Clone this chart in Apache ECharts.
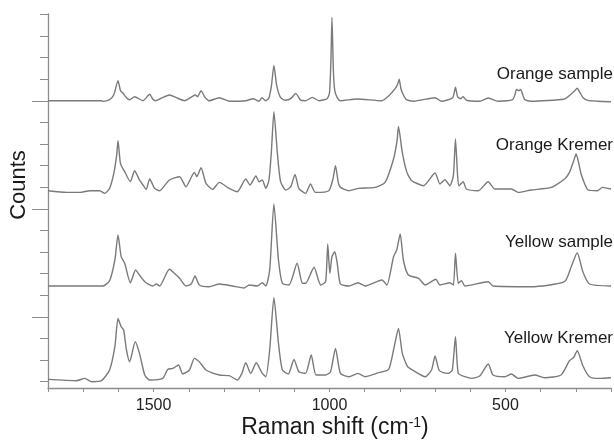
<!DOCTYPE html>
<html>
<head>
<meta charset="utf-8">
<script src="https://cdn.jsdelivr.net/npm/echarts@6/dist/echarts.min.js"></script>
<style>
html,body{margin:0;padding:0;background:#fff;}
#chart{width:614px;height:441px;}
</style>
</head>
<body>
<div id="chart"></div>
<script>
// Raman shift (cm-1) vs. relative intensity above each trace's baseline
var orangeSample = [[1800,0],[1648,0],[1644,-0.7],[1625,1],[1613,6],[1601,20],[1594,10],[1588,8],[1577,3],[1568,1],[1554,4],[1530,0],[1511,6.5],[1502,1.5],[1494,0],[1475,3],[1455,5.7],[1435,3],[1412,0],[1381,5.7],[1375,4],[1365,10],[1355,4],[1342,0],[1313,3],[1285,-0.5],[1238,0],[1217,2],[1200,-0.5],[1192,3],[1181,0],[1172,3],[1165,15],[1158,35.3],[1150,15],[1139,3],[1125,0.5],[1110,2],[1096,7.3],[1082,0.5],[1068,0],[1049,3.3],[1030,0],[1007,2],[1000,8],[996,40],[993,83.4],[989,30],[985,10],[978,3],[969,0],[922,1.7],[852,0],[832,4.7],[813,12.3],[806,17],[802,21.4],[797,12],[790,5.7],[781,1],[761,-0.5],[700,3],[682,-0.5],[650,3],[642,13.4],[636,4],[628,2],[620,4],[611,0.5],[573,-0.5],[549,2.7],[521,-0.5],[480,1],[472,7],[469,11.3],[462,10],[457,11.3],[450,5],[445,1],[427,-0.5],[332,1.7],[313,6.7],[303,10],[296,12.4],[288,8],[280,3.3],[266,0.3],[238,-0.5],[200,-1]];
var orangeKremer = [[1800,0],[1747,-1.7],[1709,-1.7],[1681,0],[1653,0],[1639,-2.7],[1625,2.3],[1613,17.3],[1605,35],[1601,50],[1594,27],[1582,19],[1566,9],[1554,20],[1540,10.7],[1530,5.7],[1521,1.3],[1511,11.7],[1497,2.3],[1483,0],[1455,10.7],[1426,14],[1408,4],[1384,18.3],[1377,14],[1365,23],[1351,7.3],[1332,1.3],[1313,8.3],[1285,2.3],[1262,-1],[1238,11.7],[1226,5.7],[1209,14.7],[1200,9],[1191,10.7],[1181,2.3],[1172,10.7],[1165,40],[1158,79],[1148,37],[1139,9],[1124,0.7],[1110,4],[1098,16.3],[1087,2.3],[1068,-2.7],[1054,6.7],[1040,-1.7],[1002,0],[990,12],[983,25],[975,8],[969,3.3],[945,0],[917,2.3],[870,3.3],[842,8.3],[818,31.7],[808,50],[804,64.3],[793,38],[780,18.3],[766,10],[733,5],[700,17.7],[686,6.7],[672,11],[658,5],[648,15],[642,51.7],[636,15],[632,5],[620,9],[611,1.7],[577,0],[549,9],[530,1.7],[483,1.7],[464,-1.7],[427,0.7],[370,3.3],[332,11.7],[318,18.3],[306,30],[299,36.7],[292,28],[285,16.7],[266,1],[238,0],[224,3.3],[200,1.7]];
var yellowSample = [[1800,0],[1644,0],[1625,5.3],[1610,26],[1601,51],[1592,29.3],[1582,22.7],[1566,3.3],[1551,16],[1540,11],[1525,4.3],[1502,0],[1492,2],[1483,0],[1455,16.7],[1441,12.7],[1426,7.7],[1408,0],[1393,2],[1382,10],[1370,1],[1342,-0.7],[1313,2],[1276,0],[1243,-2],[1228,1],[1205,0],[1191,3.3],[1181,0],[1170,16],[1158,82],[1145,26],[1134,2.7],[1115,1],[1092,22.7],[1077,2.7],[1068,2.7],[1044,18.7],[1025,1],[1011,4.3],[1005,42],[999,12.7],[993,29.3],[985,34.3],[978,22.7],[969,2],[945,0],[919,3.3],[898,0],[851,6],[837,1],[818,29.3],[809,36],[799,52],[790,26],[776,11],[747,7.7],[728,1],[698,6.7],[686,1],[658,3.3],[648,1],[642,32.7],[634,2.7],[625,5.3],[615,0],[549,4.3],[535,0],[427,-0.7],[332,4.3],[313,19.3],[296,33.3],[280,14.3],[261,2],[200,0]];
var yellowKremer = [[1800,1.3],[1719,0],[1695,2.3],[1676,-1],[1648,0],[1625,10.7],[1610,34],[1601,62.3],[1592,54],[1585,50.7],[1577,30.7],[1568,19],[1552,39],[1540,27.3],[1525,5.7],[1511,0.7],[1474,2.3],[1460,11.3],[1445,12.3],[1429,15.7],[1417,6.7],[1398,10.7],[1384,22.3],[1370,19],[1351,10.7],[1313,5.7],[1285,5],[1262,0.7],[1249,7.3],[1238,18],[1224,7.3],[1208,18],[1191,7.3],[1181,4],[1170,30.7],[1158,83.3],[1145,37.3],[1134,10.7],[1117,6.7],[1101,21.3],[1087,9],[1068,7.3],[1052,25.7],[1038,5.7],[1011,5.7],[997,9],[983,32.3],[969,7.3],[945,4],[919,7.3],[898,4],[860,8],[832,11.3],[818,30.7],[804,52.3],[793,27.3],[778,14],[761,10],[728,4],[710,10.7],[700,24.7],[689,10.7],[677,8],[662,7.3],[651,10.7],[642,44],[634,7.3],[615,4],[596,2.3],[573,4.7],[549,16.7],[535,5.7],[502,4],[483,6.7],[464,2.3],[417,5.7],[389,3],[342,5.7],[318,20],[306,23.3],[296,30],[280,15],[261,4],[233,2.3],[200,3]];

var seriesNames = ['Orange sample', 'Orange Kremer', 'Yellow sample', 'Yellow Kremer'];
var offsets = [287.3, 197.3, 102, 7.3];        // vertical stacking offset of each trace
var xLabelTicks = [1500, 1000, 500];
var yMinorTicks = [6.3,27.9,49.5,71.1,92.7,114.3,135.9,157.5,179.1,200.7,222.3,243.9,265.5,287.1,308.7,330.3,351.9,373.5];
var yMajorTicks = [71.1, 179.1, 287.1];
var labelValueY = [314, 243, 146, 50];         // label anchor heights in axis units

var FONT = '"Liberation Sans", Arial, Helvetica, sans-serif';
var chart = echarts.init(document.getElementById('chart'));
var raw = [orangeSample, orangeKremer, yellowSample, yellowKremer];
var AX = '#8c8c8c';

var series = raw.map(function (arr, i) {
  return {
    name: seriesNames[i],
    type: 'line',
    showSymbol: false,
    symbol: 'none',
    smooth: 0.2,
    animation: false,
    lineStyle: { color: '#7a7a7a', width: 1.4 },
    data: arr.map(function (p) { return [p[0], p[1] + offsets[i]]; })
  };
});

chart.setOption({
  animation: false,
  backgroundColor: '#fff',
  grid: { left: 48, right: 1, top: 14, bottom: 53 },
  xAxis: {
    type: 'value', min: 200, max: 1800, interval: 100, inverse: true,
    axisLine: { show: true, lineStyle: { color: AX, width: 1.3 } },
    axisTick: { show: true, length: 4, lineStyle: { color: AX, width: 1 } },
    axisLabel: {
      fontSize: 16, color: '#222', fontFamily: FONT, margin: 10,
      formatter: function (v) { return xLabelTicks.indexOf(v) >= 0 ? String(v) : ''; }
    },
    splitLine: { show: false }
  },
  yAxis: [{
    type: 'value', min: 0, max: 374, position: 'left',
    axisLine: { show: true, lineStyle: { color: AX, width: 1.3 } },
    axisTick: { show: true, length: 8, customValues: yMinorTicks, lineStyle: { color: AX, width: 1 } },
    axisLabel: { show: false },
    splitLine: { show: false }
  }, {
    type: 'value', min: 0, max: 374, position: 'left',
    axisLine: { show: false },
    axisTick: { show: true, length: 16, customValues: yMajorTicks, lineStyle: { color: AX, width: 1 } },
    axisLabel: { show: false },
    splitLine: { show: false }
  }],
  series: series
});

// series name labels placed beside their traces via the axis scale
var extra = seriesNames.map(function (n, i) {
  var p = chart.convertToPixel({ gridIndex: 0 }, [200, labelValueY[i]]);
  return { type: 'text', x: 613, y: p[1],
    style: { text: n, fontSize: 17, fontFamily: FONT, fill: '#1a1a1a', align: 'right', verticalAlign: 'middle' } };
});
chart.setOption({ graphic: [
  { type: 'text', x: 19, y: 185, rotation: Math.PI / 2,
    style: { text: 'Counts', fontSize: 22, fontFamily: FONT, fill: '#1a1a1a', align: 'center', verticalAlign: 'middle' } },
  { type: 'text', x: 335, y: 428,
    style: { text: '{a|Raman shift (cm}{s|-1}{a|)}', align: 'center', verticalAlign: 'middle',
      rich: { a: { fontSize: 23, fontFamily: FONT, fill: '#1a1a1a' },
              s: { fontSize: 14, fontFamily: FONT, fill: '#1a1a1a', verticalAlign: 'top' } } } }
].concat(extra) });
</script>
</body>
</html>
